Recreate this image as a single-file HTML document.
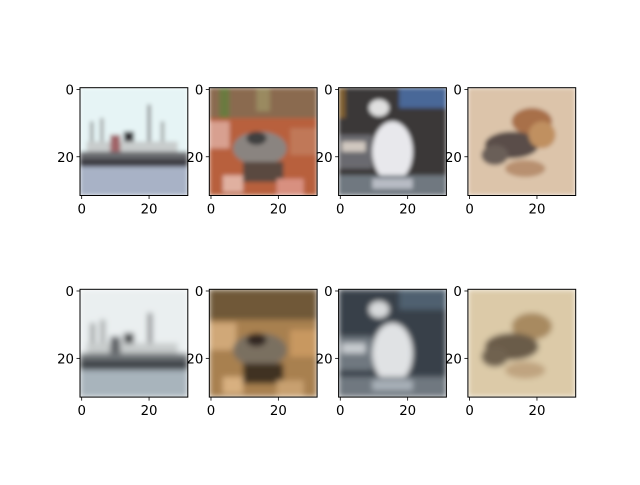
<!DOCTYPE html>
<html><head><meta charset="utf-8"><style>
body{margin:0;background:#fff}
text{font-family:"DejaVu Sans","Liberation Sans",sans-serif;font-size:13.3px;fill:#000}
</style></head><body>
<svg id="fig" width="640" height="480" viewBox="0 0 640 480" xmlns="http://www.w3.org/2000/svg">
<defs><filter id="b1" x="0" y="0" width="1" height="1"><feGaussianBlur stdDeviation="0.6"/></filter>
<filter id="b2" x="0" y="0" width="1" height="1"><feGaussianBlur stdDeviation="0.9"/></filter></defs>
</svg>
<script>
const svg=document.getElementById('fig');
const NS='http://www.w3.org/2000/svg';
const colsX=[80,209.3,338.6,467.9];
const rowsY=[87.7,289.3];
const S=107.8;
const xTicks=[0,20];
const yTicks=[0,20];
// image scenes in 32x32 pixel space: [x,y,w,h,color] or ellipse ['e',cx,cy,rx,ry,color]
const ship=[[0,0,32,32,'#e6f4f5'],[3,10,1,10,'#9aa0a0'],[6,9,1,10,'#a0a4a4'],[20,5,1,14,'#8a8c8e'],[24,10,1,9,'#a0a4a4'],[2,16,27,4,'#c8cccc'],[9,14,3,6,'#a06468'],[13,13,3,3,'#303234'],[0,19,32,2,'#6a6c70'],[0,21,32,2.5,'#3e3e44'],[0,23.5,32,8.5,'#a8b2c6']];
const frog=[[0,0,32,32,'#b8603c'],[0,0,32,9,'#8a6a50'],[3,0,3,9,'#6a7a40'],[14,0,4,7,'#9a8a60'],[0,10,6,8,'#d8a090'],[24,12,8,8,'#c07858'],['e',15,18,8,5,'#8a8480'],['e',14,15,3,2,'#404040'],[10,22,12,6,'#5a4a40'],[4,26,6,5,'#e0b0a0'],[20,27,8,5,'#d89080']];
const dog=[[0,0,32,32,'#3a3838'],[18,0,14,6,'#4a6898'],[0,0,2,9,'#806030'],[0,14,10,10,'#6a6a70'],[1,16,7,3,'#d0c8c0'],['e',16,19,6,9,'#e8e8ec'],['e',12,6,3,2.5,'#e0e0e0'],[0,26,32,6,'#707880'],[10,27,12,3,'#b8bcc4']];
const pup=[[0,0,32,32,'#dcc4aa'],['e',19,10,6,4,'#a87048'],['e',13,17,8,4,'#5a4e48'],['e',8,20,4,3,'#6a5e58'],['e',17,24,6,2.5,'#b89070'],['e',22,14,4,4,'#c09060']];
const shipR=[[0,0,32,32,'#eaeff0'],[3,10,1.5,10,'#a0a4a4'],[6,9,1.5,10,'#a8acac'],[20,7,1.5,12,'#909294'],[2,16,27,4,'#c8cccc'],[9,14,3,6,'#606468'],[13,13,3,3,'#404244'],[0,19,32,2,'#707478'],[0,21,32,3,'#40444a'],[0,24,32,8,'#a8b4bc']];
const frogR=[[0,0,32,32,'#a88050'],[0,0,32,9,'#705838'],[0,10,8,8,'#d0a878'],[24,12,8,8,'#c89860'],['e',15,18,8,5,'#7a7060'],['e',14,15,3,2,'#302820'],[10,22,12,6,'#403020'],[4,26,6,5,'#d8b080'],[20,27,8,5,'#c8a070']];
const dogR=[[0,0,32,32,'#384048'],[18,0,14,6,'#506070'],[0,14,10,10,'#707880'],[1,16,7,3,'#c8ccd0'],['e',16,19,6,9,'#e0e2e4'],['e',12,6,3,2.5,'#d8dadc'],[0,26,32,6,'#707880'],[10,27,12,3,'#a8b0b8']];
const pupR=[[0,0,32,32,'#dccaa8'],['e',19,11,6,4,'#a88a60'],['e',13,17,8,4,'#6a5c48'],['e',8,20,4,3,'#706250'],['e',17,24,6,2.5,'#c0a480']];
const scenes=[[ship,frog,dog,pup],[shipR,frogR,dogR,pupR]];
const names=['ship','frog','dog','puppy'];
function el(t,a){const e=document.createElementNS(NS,t);for(const k in a)e.setAttribute(k,a[k]);svg.appendChild(e);return e;}
scenes.forEach((row,r)=>row.forEach((sc,c)=>{
  const x0=colsX[c],y0=rowsY[r];
  const px=v=>x0+(v+0.5)*S/32, py=v=>y0+(v+0.5)*S/32;
  const g=document.createElementNS(NS,'svg');
  g.setAttribute('x',x0);g.setAttribute('y',y0);g.setAttribute('width',S);g.setAttribute('height',S);g.setAttribute('viewBox','0 0 32 32');g.setAttribute('preserveAspectRatio','none');
  
  
  svg.appendChild(g);
  const gg=document.createElementNS(NS,'g');gg.setAttribute('filter',r?'url(#b2)':'url(#b1)');g.appendChild(gg);
  sc.forEach(s=>{let e;
    if(s[0]==='e'){e=document.createElementNS(NS,'ellipse');e.setAttribute('cx',s[1]);e.setAttribute('cy',s[2]);e.setAttribute('rx',s[3]);e.setAttribute('ry',s[4]);e.setAttribute('fill',s[5]);}
    else{e=document.createElementNS(NS,'rect');e.setAttribute('x',s[0]);e.setAttribute('y',s[1]);e.setAttribute('width',s[2]);e.setAttribute('height',s[3]);e.setAttribute('fill',s[4]);}
    gg.appendChild(e);});
  const fr=el('rect',{x:x0,y:y0,width:S,height:S,fill:'none',stroke:'#000','stroke-width':1});
  
  
  xTicks.forEach(t=>{const X=px(t);
    const l=el('line',{x1:X,x2:X,y1:y0+S,y2:y0+S+3.5,stroke:'#000','stroke-width':0.8});
    
    
    const tx=el('text',{x:X,y:y0+S+18,'text-anchor':'middle'});tx.textContent=t;
    
    });
  yTicks.forEach(t=>{const Y=py(t);
    const l=el('line',{x1:x0-3.5,x2:x0,y1:Y,y2:Y,stroke:'#000','stroke-width':0.8});
    
    
    const tx=el('text',{x:x0-6,y:Y+5,'text-anchor':'end'});tx.textContent=t;
    
    });
}));
</script>
</body></html>
